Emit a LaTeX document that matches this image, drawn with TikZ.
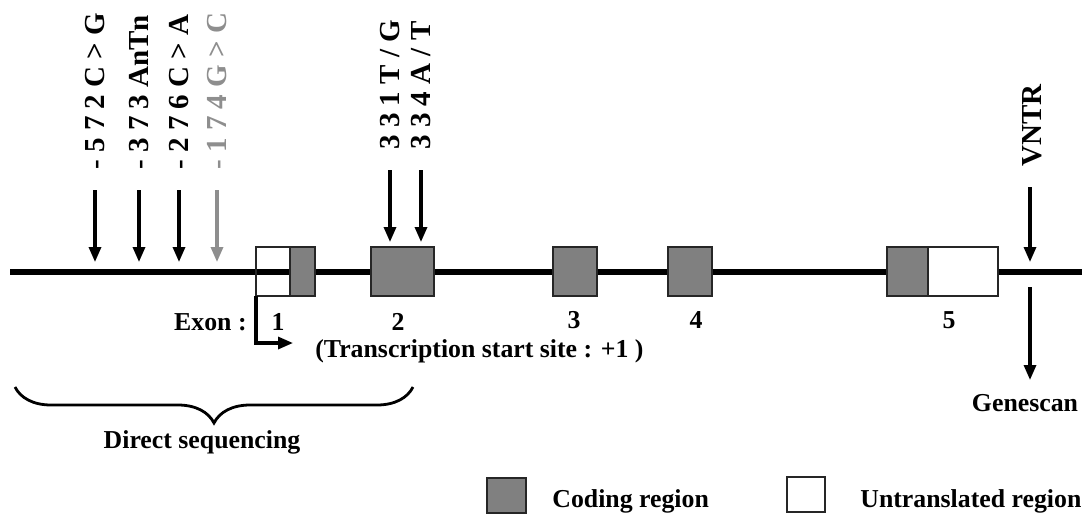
\documentclass[tikz,border=0pt]{standalone}
\usepackage{fontspec}
\setmainfont{Liberation Serif}
\usepackage{xcolor}
\usetikzlibrary{positioning,arrows.meta,decorations.pathreplacing}
\definecolor{codinggray}{HTML}{808080}
\definecolor{snpgray}{HTML}{8E8E8E}
\begin{document}
\begin{tikzpicture}[
	%	style def
    x=0.5pt, y=-0.5pt,
    important line/.style={line width=3pt},
    snp arrow/.style={line width=1.6pt, -{Triangle[length=7.5pt,width=6pt]}},
    exon box/.style={draw=black!85, line width=0.7pt},
    coding box/.style={exon box, fill=codinggray},
    utr box/.style={exon box, fill=white},
    snp label/.style={rotate=90, anchor=west, inner sep=0pt, font=\bfseries\fontsize{14.5}{16}\selectfont},
    text label/.style={inner sep=0pt, font=\bfseries\fontsize{12.9}{15}\selectfont}
    ]
    \useasboundingbox (0,0) rectangle (1082,515);

	% gene line
	\draw[important line] (10,272) coordinate (gstart) -- (1082,272) coordinate (gend);

	% exons
	\draw[exon box] (256,247) rectangle (290,296);
	\filldraw[coding box] (290,247) rectangle (315,296);
	\filldraw[coding box] (371,247) rectangle (434,296);
	\filldraw[coding box] (553,247) rectangle (597,296);
	\filldraw[coding box] (668,247) rectangle (712,296);
	\filldraw[coding box] (887,247) rectangle (928,296);
	\filldraw[utr box] (928,247) rectangle (998,296);

	% promoter polymorphisms
	\node[snp label] (l572) at (95,170) {- 5 7 2 C > G};
	\node[snp label] (l373) at (139,170) {- 3 7 3 AnTn};
	\node[snp label] (l276) at (179,170) {- 2 7 6 C > A};
	\node[snp label, snpgray] (l174) at (217,170) {- 1 7 4 G > C};
	\coordinate (a572) at (95,190);  \coordinate (t572) at (95,262);
	\coordinate (a373) at (139,190); \coordinate (t373) at (139,262);
	\coordinate (a276) at (179,190); \coordinate (t276) at (179,262);
	\coordinate (a174) at (217,190); \coordinate (t174) at (217,262);
	\draw[snp arrow] (a572) -- (t572);
	\draw[snp arrow] (a373) -- (t373);
	\draw[snp arrow] (a276) -- (t276);
	\draw[snp arrow, snpgray] (a174) -- (t174);

	% exon 2 polymorphisms
	\node[snp label] (l331) at (390,150) {3 3 1 T / G};
	\node[snp label] (l334) at (421,150) {3 3 4 A / T};
	\coordinate (a331) at (390,170); \coordinate (t331) at (390,242);
	\coordinate (a334) at (421,170); \coordinate (t334) at (421,242);
	\draw[snp arrow] (a331) -- (t331);
	\draw[snp arrow] (a334) -- (t334);

	% VNTR and genescan
	\node[snp label] (vntr) at (1032,167) {VNTR};
	\coordinate (avntr) at (1030,187); \coordinate (tvntr) at (1030,262);
	\draw[snp arrow] (avntr) -- (tvntr);
	\node[text label, anchor=base] (genescan) at (1025,411) {Genescan};
	\coordinate (ags) at (1030,287); \coordinate (tgs) at (1030,380);
	\draw[snp arrow] (ags) -- (tgs);

	% exon numbers
	\node[text label, anchor=base east] (exonlbl) at (247,330) {Exon :};
	\node[text label, anchor=base] (n1) at (278,330) {1};
	\node[text label, anchor=base] (n2) at (398,330) {2};
	\node[text label, anchor=base] (n3) at (574,328) {3};
	\node[text label, anchor=base] (n4) at (696,328) {4};
	\node[text label, anchor=base] (n5) at (949,328) {5};

	% transcription start site
	\coordinate (tss) at (256,296); \coordinate (tsstip) at (293,343);
	\draw[snp arrow] (tss) |- (tsstip);
	\node[text label, anchor=base west] (tsslbl) at (315,357) {(Transcription start site : +1 )};

	% direct sequencing brace
	\draw[decorate, decoration={brace, mirror, amplitude=18pt}, line width=1.4pt] (15,387) coordinate (bl) -- (413,387) coordinate (br);
	\node[text label, anchor=base] (dseq) at (202,448) {Direct sequencing};

	% legend
	\filldraw[coding box] (487,478) rectangle (526,513);
	\node[text label, anchor=base west] (codinglbl) at (552,507) {Coding region};
	\filldraw[utr box] (787,477) rectangle (825,512);
	\node[text label, anchor=base west] (utrlbl) at (860,507) {Untranslated region};
\end{tikzpicture}
\end{document}
